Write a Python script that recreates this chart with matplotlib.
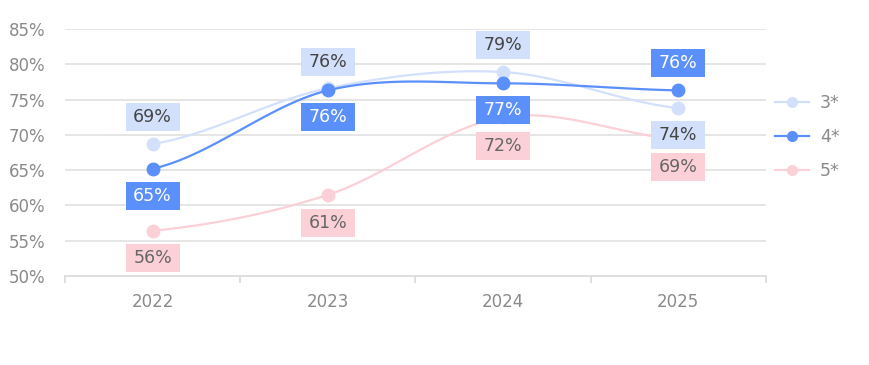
import numpy as np
import matplotlib
matplotlib.use("Agg")
import matplotlib.pyplot as plt
import matplotlib.transforms as mtransforms
from matplotlib.patches import Rectangle
from matplotlib.lines import Line2D

years = ["2022", "2023", "2024", "2025"]
series_names = ["3*", "4*", "5*"]
s3 = [68.7, 76.6, 78.9, 73.8]
s4 = [65.2, 76.3, 77.3, 76.3]
s5 = [56.4, 61.5, 72.5, 69.4]
labels3 = ["69%", "76%", "79%", "74%"]
labels4 = ["65%", "76%", "77%", "76%"]
labels5 = ["56%", "61%", "72%", "69%"]
yticks = [50, 55, 60, 65, 70, 75, 80, 85]

colors = ["#d3e0fc", "#5b8ff9", "#fbd0d6"]
text_colors = ["#444444", "#ffffff", "#666666"]
# label vertical offsets in pixels (negative = above)
offsets = [[-27, -26, -27, 27], [27, 27, 27, -27], [27, 28, 29, 28]]
BOX_W, BOX_H = 54, 28  # pixels

def catmull(xs, ys, n=40):
    xs = np.asarray(xs, float); ys = np.asarray(ys, float)
    m = np.zeros_like(ys)
    m[1:-1] = (ys[2:] - ys[:-2]) / (xs[2:] - xs[:-2])
    m[0] = (ys[1] - ys[0]) / (xs[1] - xs[0]) * 0.5
    m[-1] = (ys[-1] - ys[-2]) / (xs[-1] - xs[-2]) * 0.5
    ox, oy = [], []
    for i in range(len(xs) - 1):
        h = xs[i + 1] - xs[i]
        t = np.linspace(0, 1, n, endpoint=(i == len(xs) - 2))
        h00 = 2*t**3 - 3*t**2 + 1
        h10 = t**3 - 2*t**2 + t
        h01 = -2*t**3 + 3*t**2
        h11 = t**3 - t**2
        oy.append(h00*ys[i] + h10*h*m[i] + h01*ys[i+1] + h11*h*m[i+1])
        ox.append(xs[i] + t*h)
    return np.concatenate(ox), np.concatenate(oy)

DPI = 100
fig = plt.figure(figsize=(8.7, 3.65), dpi=DPI)
ax = fig.add_axes([65/870, 1-276/365, (766-65)/870, (276-29)/365])
x = np.arange(len(years))
ax.set_xlim(-0.5, len(years) - 0.5)
ax.set_ylim(50, 85)

for v in yticks[1:]:
    ax.axhline(v, color="#e3e3e3", lw=1.3, zorder=0)

for sp in ["top", "right", "left"]:
    ax.spines[sp].set_visible(False)
ax.spines["bottom"].set_color("#dcdcdc")
ax.spines["bottom"].set_linewidth(1.3)

ax.set_yticks(yticks)
ax.set_yticklabels([f"{v}%" for v in yticks])
ax.set_xticks(x)
ax.set_xticklabels(years)
ax.set_xticks(np.arange(len(years) + 1) - 0.5, minor=True)
ax.tick_params(axis="y", length=0, labelsize=12, labelcolor="#8a8a8a", pad=14)
ax.tick_params(axis="x", which="major", length=0, labelsize=12, labelcolor="#8a8a8a", pad=12)
ax.tick_params(axis="x", which="minor", length=5, color="#dcdcdc", width=1.3)

all_series = [s3, s4, s5]
all_labels = [labels3, labels4, labels5]
zs = [2, 4, 3]
for k, (vals, lab) in enumerate(zip(all_series, all_labels)):
    cx, cy = catmull(x, vals)
    ax.plot(cx, cy, color=colors[k], lw=1.6, zorder=zs[k])
    ax.plot(x, vals, "o", color=colors[k], ms=9, zorder=zs[k] + 0.5)

for k, (vals, lab) in enumerate(zip(all_series, all_labels)):
    for i, v in enumerate(vals):
        tr = fig.dpi_scale_trans + mtransforms.ScaledTranslation(x[i], v, ax.transData)
        cy = -offsets[k][i] / DPI
        rect = Rectangle((-BOX_W / 2 / DPI, cy - BOX_H / 2 / DPI), BOX_W / DPI, BOX_H / DPI,
                         transform=tr, fc=colors[k], ec="none", zorder=9, clip_on=False)
        ax.add_patch(rect)
        ax.text(0, cy, lab[i], transform=tr, ha="center", va="center",
                fontsize=12.5, color=text_colors[k], zorder=10)

handles = [Line2D([], [], color=c, lw=1.6, marker="o", ms=7) for c in colors]
leg = fig.legend(handles, series_names, loc="center left",
                 bbox_to_anchor=(759/870, 1-137/365), frameon=False,
                 fontsize=12.5, labelcolor="#8a8a8a", handlelength=2.0,
                 labelspacing=0.9, handletextpad=0.6)

fig.savefig("out.png", dpi=DPI)
